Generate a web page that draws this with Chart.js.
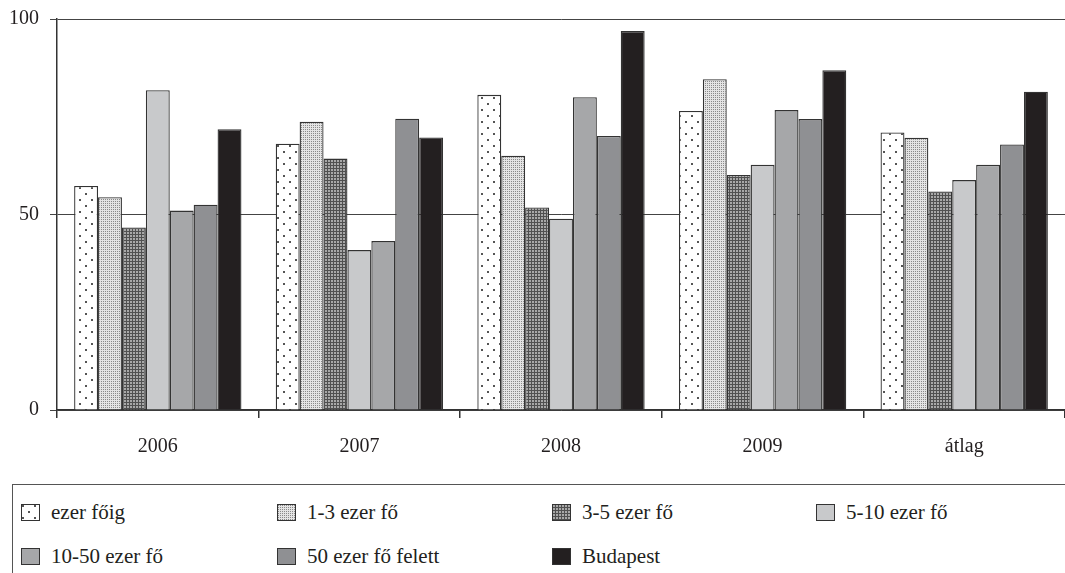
<!DOCTYPE html>
<html><head><meta charset="utf-8">
<script src="https://cdn.jsdelivr.net/npm/chart.js@4"></script>
<style>
html,body{margin:0;padding:0;background:#fff;width:1065px;height:573px;overflow:hidden;}
#wrap{position:absolute;left:0;top:0;width:1065px;height:470px;}
#legend{position:absolute;left:12px;top:484px;width:1100px;height:100px;border:1.5px solid #555;box-sizing:border-box;font-family:"Liberation Serif",serif;font-size:21px;color:#231f20;}
.item{position:absolute;display:flex;align-items:center;white-space:nowrap;height:20px;}
.item canvas{display:block;margin-right:11px;}
</style></head>
<body>
<div id="wrap"><canvas id="c"></canvas></div>
<div id="legend"></div>
<script>
const categories = ['2006', '2007', '2008', '2009', 'átlag'];
const seriesNames = ['ezer főig', '1-3 ezer fő', '3-5 ezer fő', '5-10 ezer fő', '10-50 ezer fő', '50 ezer fő felett', 'Budapest'];
const ezerFoig  = [57.3, 68.1, 80.6, 76.5, 71.0];
const ezer1_3   = [54.4, 73.7, 65.0, 84.6, 69.6];
const ezer3_5   = [46.7, 64.3, 51.8, 60.1, 55.9];
const ezer5_10  = [81.8, 40.9, 48.9, 62.7, 58.8];
const ezer10_50 = [51.0, 43.2, 80.0, 76.7, 62.7];
const ezer50up  = [52.5, 74.5, 70.1, 74.4, 67.9];
const budapest  = [71.8, 69.7, 96.9, 86.9, 81.4];
const yTicks = [0, 50, 100];

const seriesValues = [ezerFoig, ezer1_3, ezer3_5, ezer5_10, ezer10_50, ezer50up, budapest];

function tile(size, bg, dots, dotColor, dotSize) {
  const c = document.createElement('canvas');
  c.width = size; c.height = size;
  const x = c.getContext('2d');
  x.fillStyle = bg; x.fillRect(0, 0, size, size);
  x.fillStyle = dotColor;
  dots.forEach(([a, b]) => x.fillRect(a, b, dotSize, dotSize));
  return c;
}
const tiles = [
  tile(12, '#ffffff', [[1, 1], [7, 7]], '#555555', 2),
  tile(2, '#e4e4e4', [[1, 1]], '#8a8a8a', 1),
  tile(3, '#505050', [[1, 1]], '#a8a8a8', 2),
  null, null, null, null
];
const solid = [null, null, null, '#c8c9cb', '#a6a7a9', '#8f9093', '#231f20'];

const canvas = document.getElementById('c');
const ctx = canvas.getContext('2d');
function fillFor(i, context) {
  return tiles[i] ? context.createPattern(tiles[i], 'repeat') : solid[i];
}

const font = { family: 'Liberation Serif', size: 20 };
const textColor = '#231f20';

new Chart(canvas, {
  type: 'bar',
  data: {
    labels: categories,
    datasets: seriesNames.map((n, i) => ({
      label: n,
      data: seriesValues[i],
      backgroundColor: fillFor(i, ctx),
      borderColor: '#333333',
      borderWidth: 1.3,
      barPercentage: 1.0,
      categoryPercentage: 0.83
    }))
  },
  options: {
    responsive: true,
    maintainAspectRatio: false,
    animation: false,
    devicePixelRatio: 1,
    layout: { padding: { top: 19, left: 0, right: 0, bottom: 0 } },
    plugins: { legend: { display: false }, tooltip: { enabled: false } },
    scales: {
      x: {
        afterFit: s => { s.height = 60; s.paddingLeft = 0; s.paddingRight = 0; },
        ticks: { font: font, color: textColor, padding: 17 },
        grid: { offset: true, drawOnChartArea: false, tickLength: 8, color: '#333', lineWidth: 1.5 },
        border: { display: true, color: '#333', width: 1.5 }
      },
      y: {
        min: 0, max: 100,
        afterBuildTicks: s => { s.ticks = yTicks.map(v => ({ value: v })); },
        afterFit: s => { s.width = 57; s.paddingTop = 0; s.paddingBottom = 0; },
        ticks: { font: font, color: textColor, padding: 11 },
        grid: { color: '#444', lineWidth: 1, tickLength: 7 },
        border: { display: true, color: '#333', width: 1.5 }
      }
    }
  }
});

// HTML legend built from the series names
const legend = document.getElementById('legend');
const colX = [8, 264, 539, 803];
const rowY = [17, 61];
seriesNames.forEach((n, i) => {
  const item = document.createElement('div');
  item.className = 'item';
  item.style.left = colX[i % 4] + 'px';
  item.style.top = rowY[Math.floor(i / 4)] + 'px';
  const sw = document.createElement('canvas');
  sw.width = 19; sw.height = 17;
  const sctx = sw.getContext('2d');
  sctx.fillStyle = fillFor(i, sctx);
  sctx.fillRect(0, 0, 19, 17);
  sctx.strokeStyle = '#333';
  sctx.lineWidth = 1;
  sctx.strokeRect(0.5, 0.5, 18, 16);
  item.appendChild(sw);
  const t = document.createElement('span');
  t.textContent = n;
  item.appendChild(t);
  legend.appendChild(item);
});
</script>
</body></html>
